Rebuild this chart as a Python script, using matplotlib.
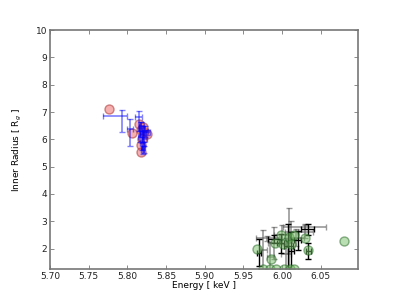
import numpy as np
import matplotlib
matplotlib.use('Agg')
import matplotlib.pyplot as plt

# red circles (upper-left cluster)
red_x = [5.777, 5.806, 5.815, 5.818, 5.822, 5.826, 5.819, 5.818, 5.818, 5.820]
red_y = [7.10, 6.22, 6.57, 6.35, 6.28, 6.21, 6.00, 5.80, 5.52, 6.45]

# blue error bars (asymmetric)
blue_x = [5.793, 5.804, 5.815, 5.818, 5.820, 5.822, 5.819, 5.821, 5.823, 5.817, 5.820, 5.825, 5.818]
blue_y = [6.85, 6.36, 6.81, 6.40, 6.20, 6.00, 5.85, 5.70, 6.30, 6.10, 5.60, 6.25, 6.50]
blue_xlo = [0.024, 0.004, 0.005, 0.003, 0.004, 0.003, 0.002, 0.002, 0.004, 0.003, 0.002, 0.005, 0.003]
blue_xhi = [0.007, 0.004, 0.004, 0.003, 0.004, 0.003, 0.002, 0.002, 0.004, 0.003, 0.002, 0.005, 0.003]
blue_ylo = [0.58, 0.62, 0.51, 0.25, 0.30, 0.25, 0.25, 0.20, 0.20, 0.20, 0.15, 0.10, 0.15]
blue_yhi = [0.22, 0.37, 0.23, 0.25, 0.30, 0.25, 0.25, 0.20, 0.20, 0.20, 0.15, 0.10, 0.15]

# green circles (lower-right cluster)
green_x = [5.968, 5.986, 5.991, 5.999, 6.001, 6.009, 6.016, 6.012, 6.029, 6.034, 6.080,
           5.975, 5.984, 5.992, 6.003, 6.010, 6.015]
green_y = [1.97, 1.63, 2.22, 2.51, 2.16, 2.44, 2.49, 2.16, 2.38, 1.95, 2.27,
           1.25, 1.25, 1.25, 1.25, 1.25, 1.25]

# gray error bars
gray_x = [6.009, 6.029, 5.976, 5.981, 5.990, 6.000, 6.005, 6.018, 5.985, 6.012, 6.030]
gray_y = [2.30, 2.80, 1.95, 2.37, 2.20, 2.50, 1.80, 2.40, 1.70, 2.60, 2.62]
gray_xerr = [0.004, 0.028, 0.004, 0.015, 0.008, 0.010, 0.006, 0.010, 0.005, 0.008, 0.010]
gray_yerr = [1.20, 0.10, 0.72, 0.10, 0.60, 0.35, 0.60, 0.30, 0.55, 0.40, 0.25]

# black error bars
black_x = [6.034, 6.012, 6.008, 5.998, 5.970, 6.033, 5.990, 6.020]
black_y = [1.91, 1.91, 2.10, 2.20, 1.85, 2.70, 2.35, 2.30]
black_xerr = [0.003, 0.004, 0.006, 0.004, 0.003, 0.008, 0.008, 0.004]
black_yerr = [0.31, 0.68, 0.80, 0.35, 0.50, 0.20, 0.15, 0.35]

plt.rcParams['font.family'] = 'DejaVu Sans'
plt.rcParams['font.size'] = 6.5

fig = plt.figure(figsize=(3.99, 2.91), dpi=100)
ax = fig.add_axes([0.125, 0.0756, 0.772, 0.821])

ax.errorbar(gray_x, gray_y, xerr=gray_xerr, yerr=gray_yerr, fmt='none',
            ecolor='#555555', alpha=0.6, capsize=2, elinewidth=1.2)
ax.errorbar(black_x, black_y, xerr=black_xerr, yerr=black_yerr, fmt='none',
            ecolor='black', capsize=2, elinewidth=1.0)
ax.plot(green_x, green_y, 'o', ms=6.5, mfc='#77c066', mec='#226622', alpha=0.5)

ax.plot(red_x, red_y, 'o', ms=6.5, mfc='#f07070', mec='#aa3333', alpha=0.55)
ax.errorbar(blue_x, blue_y, xerr=[blue_xlo, blue_xhi], yerr=[blue_ylo, blue_yhi],
            fmt='none', ecolor='blue', alpha=0.5, capsize=2, elinewidth=1.2)

ax.set_xlim(5.70, 6.098)
ax.set_ylim(1.25, 10)
ax.set_xticks([5.70, 5.75, 5.80, 5.85, 5.90, 5.95, 6.00, 6.05])
ax.set_yticks([2, 3, 4, 5, 6, 7, 8, 9, 10])
ax.xaxis.set_major_formatter(matplotlib.ticker.FormatStrFormatter('%.2f'))
ax.tick_params(direction='in', top=True, right=True, length=3, width=0.6,
               colors='#777777', labelcolor='#222222', pad=2)
for s in ax.spines.values():
    s.set_color('#777777')
    s.set_linewidth(1.2)

ax.set_xlabel('Energy [ keV ]', labelpad=0)
ax.set_ylabel('Inner Radius [ R$_g$ ]', labelpad=8)

fig.savefig('out.png', dpi=100)
